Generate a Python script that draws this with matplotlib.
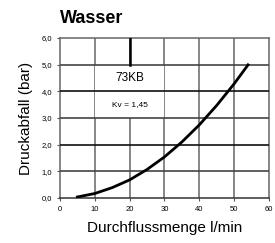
import matplotlib
matplotlib.use("Agg")
import matplotlib.pyplot as plt
from matplotlib.patches import Rectangle

# Werte
durchfluss = [5, 10, 15, 20, 25, 30, 35, 40, 45, 50, 54]          # l/min
druckabfall = [0.04, 0.17, 0.39, 0.68, 1.07, 1.54, 2.10, 2.74, 3.47, 4.28, 4.99]  # bar

x_ticks = [0, 10, 20, 30, 40, 50, 60]
y_ticks = [0, 1, 2, 3, 4, 5, 6]
y_labels = ["0,0", "1,0", "2,0", "3,0", "4,0", "5,0", "6,0"]

plt.rcParams['font.family'] = ['Liberation Sans', 'DejaVu Sans']

fig = plt.figure(figsize=(2.75, 2.43), dpi=100)
ax = fig.add_axes([0.218, 0.185, 0.76, 0.659])

ax.set_xlim(0, 60)
ax.set_ylim(0, 6)

# Gitter: senkrecht grau, waagerecht abwechselnd schwarz / grau
for xv in x_ticks[1:-1]:
    ax.axvline(xv, color='#666666', linewidth=1.1, zorder=1)
for yv in y_ticks[1:-1]:
    col = '#111111' if yv % 2 == 0 else '#444444'
    ax.axhline(yv, color=col, linewidth=1.2, zorder=3)

# weisses Feld fuer die Beschriftung
ax.add_patch(Rectangle((10, 3), 20, 2, facecolor='white', edgecolor='none', zorder=2))
ax.plot([20, 20], [5, 6], color='black', linewidth=1.8, zorder=4)
ax.text(20, 4.5, "73KB", ha='center', va='center', fontsize=8.5, zorder=5)
ax.text(20, 3.5, "Kv = 1,45", ha='center', va='center', fontsize=6, zorder=5)

ax.plot(durchfluss, druckabfall, color='black', linewidth=2.0, zorder=6)

ax.set_xticks(x_ticks)
ax.set_yticks(y_ticks)
ax.set_yticklabels(y_labels)
ax.tick_params(labelsize=5.5, length=2.5, width=0.8, color='#555555', pad=3)
for s in ['left', 'bottom', 'top', 'right']:
    ax.spines[s].set_color('#666666')
    ax.spines[s].set_linewidth(1.1)
ax.spines['bottom'].set_color('#333333')

ax.set_xlabel("Durchflussmenge l/min", fontsize=11, labelpad=6)
ax.set_ylabel("Druckabfall (bar)", fontsize=11, labelpad=6)

fig.text(0.335, 0.925, "Wasser", ha='center', va='center', fontsize=13, fontweight='bold')

fig.savefig("out.png", dpi=100)
